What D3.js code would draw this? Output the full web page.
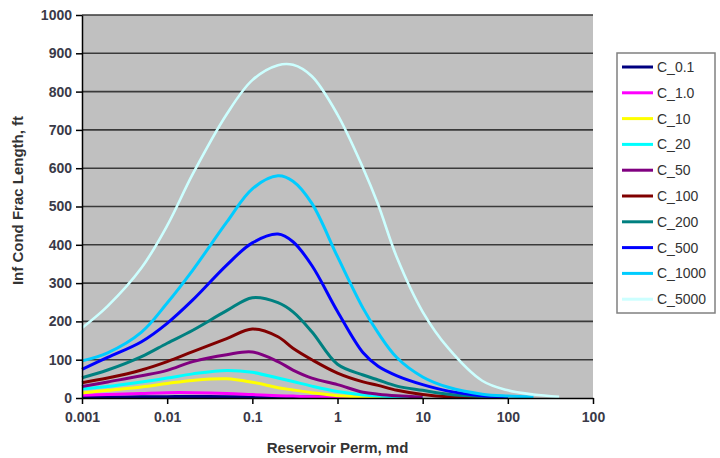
<!DOCTYPE html>
<html>
<head>
<meta charset="utf-8">
<script src="https://cdn.jsdelivr.net/npm/d3@7/dist/d3.min.js"></script>
<style>
  body { margin: 0; background: #fff; }
  text { font-family: "Liberation Sans", Arial, sans-serif; }
</style>
</head>
<body>
<svg id="chart" width="720" height="458"></svg>
<script>
// reservoir permeability, md (x values shared by all series)
var perm = [0.001, 0.002, 0.005, 0.01, 0.02, 0.05, 0.1, 0.2, 0.3, 0.5, 1, 2, 3, 5, 10, 20, 50, 100, 200, 400];

var seriesNames = ["C_0.1", "C_1.0", "C_10", "C_20", "C_50", "C_100", "C_200", "C_500", "C_1000", "C_5000"];
var seriesColors = ["#000080", "#ff00ff", "#ffff00", "#00ffff", "#800080", "#800000", "#008080", "#0000ff", "#00ccff", "#ccffff"];

// inf cond frac length, ft (null = not plotted)
var c01   = [1.5, 2, 3, 3.5, 4, 3.5, 3, 2, 1.5, 1, 0.5, null, null, null, null, null, null, null, null, null];
var c1    = [7, 9, 12, 14, 14, 12, 9, 6, 5, 3, 1.5, 0.5, null, null, null, null, null, null, null, null];
var c10   = [13, 20, 29, 38, 46, 50, 41, 27, 21, 14, 6, 3, 2, 1, null, null, null, null, null, null];
var c20   = [24, 30, 42, 52, 63, 72, 67, 52, 43, 31, 17, 8, 5, 3, 1, null, null, null, null, null];
var c50   = [30, 42, 58, 72, 95, 113, 120, 95, 73, 52, 35, 15, 10, 6, 2, null, null, null, null, null];
var c100  = [40, 52, 73, 95, 121, 155, 180, 160, 130, 100, 65, 42, 33, 20, 9, 3, 1, null, null, null];
var c200  = [53, 73, 108, 143, 177, 228, 262, 249, 225, 173, 88, 60, 47, 31, 20, 10, 4, 1.5, null, null];
var c500  = [75, 106, 147, 195, 256, 347, 405, 428, 408, 346, 226, 118, 83, 58, 35, 18, 6, 2, null, null];
var c1000 = [97, 118, 172, 248, 334, 459, 546, 580, 566, 508, 369, 234, 170, 105, 55, 28, 10, 5, 2, null];
var c5000 = [183, 240, 340, 450, 585, 741, 830, 869, 870, 840, 740, 600, 505, 366, 225, 130, 45, 20, 9, 3];

var seriesValues = [c01, c1, c10, c20, c50, c100, c200, c500, c1000, c5000];

var xTicks = [0.001, 0.01, 0.1, 1, 10, 100, 1000];
var xTickLabels = ["0.001", "0.01", "0.1", "1", "10", "100", "100"];
var yTicks = [0, 100, 200, 300, 400, 500, 600, 700, 800, 900, 1000];

var svg = d3.select("#chart");
var plotL = 82, plotR = 593, plotT = 15, plotB = 398;

var x = d3.scaleLog().domain([0.001, 1000]).range([plotL, plotR]);
var y = d3.scaleLinear().domain([0, 1000]).range([plotB, plotT]);

// plot area
svg.append("rect")
  .attr("x", plotL).attr("y", plotT)
  .attr("width", plotR - plotL).attr("height", plotB - plotT)
  .attr("fill", "#c0c0c0");

// gridlines
svg.append("g").selectAll("line")
  .data(yTicks.slice(1))
  .enter().append("line")
  .attr("x1", plotL).attr("x2", plotR)
  .attr("y1", function (d) { return y(d); })
  .attr("y2", function (d) { return y(d); })
  .attr("stroke", "#3a3a3a")
  .attr("stroke-width", 1.6);

// series
var line = d3.line()
  .defined(function (d) { return d[1] !== null; })
  .x(function (d) { return x(d[0]); })
  .y(function (d) { return Math.min(y(d[1]), plotB - 1); })
  .curve(d3.curveCatmullRom.alpha(0.5));

seriesValues.forEach(function (vals, i) {
  var pts = perm.map(function (p, j) { return [p, vals[j]]; });
  svg.append("path")
    .datum(pts)
    .attr("d", line)
    .attr("fill", "none")
    .attr("stroke", seriesColors[i])
    .attr("stroke-width", i === 9 ? 2.6 : 3)
    .attr("stroke-linejoin", "round");
});

// axes
var xAxis = svg.append("g")
  .attr("transform", "translate(0," + plotB + ")")
  .call(d3.axisBottom(x).tickValues(xTicks)
    .tickFormat(function (d, i) { return xTickLabels[i]; })
    .tickSize(6).tickSizeOuter(0));

var yAxis = svg.append("g")
  .attr("transform", "translate(" + plotL + ",0)")
  .call(d3.axisLeft(y).tickValues(yTicks).tickFormat(d3.format("d"))
    .tickSize(6).tickSizeOuter(0));

[xAxis, yAxis].forEach(function (g) {
  g.select(".domain").attr("stroke", "#000").attr("stroke-width", 1.5);
  g.selectAll(".tick line").attr("stroke", "#000").attr("stroke-width", 1.5);
  g.selectAll(".tick text")
    .attr("fill", "#3a3a48")
    .style("font-size", "14px")
    .style("font-weight", "bold");
});
xAxis.selectAll(".tick text").attr("dy", "1.05em");
yAxis.selectAll(".tick text").attr("x", -10);

// axis titles
svg.append("text")
  .attr("x", (plotL + plotR) / 2).attr("y", 453)
  .attr("text-anchor", "middle")
  .attr("fill", "#333")
  .style("font-size", "15px").style("font-weight", "bold")
  .text("Reservoir Perm, md");

svg.append("text")
  .attr("transform", "translate(23," + ((plotT + plotB) / 2 - 6) + ") rotate(-90)")
  .attr("text-anchor", "middle")
  .attr("fill", "#333")
  .style("font-size", "15px").style("font-weight", "bold")
  .text("Inf Cond Frac Length, ft");

// legend
var legend = svg.append("g");
legend.append("rect")
  .attr("x", 617).attr("y", 53)
  .attr("width", 98).attr("height", 260)
  .attr("fill", "#fff")
  .attr("stroke", "#808080").attr("stroke-width", 1.5);

var items = legend.selectAll("g.item")
  .data(seriesNames)
  .enter().append("g")
  .attr("class", "item")
  .attr("transform", function (d, i) { return "translate(0," + (67 + i * 25.8) + ")"; });

items.append("line")
  .attr("x1", 622).attr("x2", 653)
  .attr("stroke", function (d, i) { return seriesColors[i]; })
  .attr("stroke-width", 3);

items.append("text")
  .attr("x", 657).attr("dy", "0.36em")
  .attr("fill", "#333")
  .style("font-size", "14px")
  .text(function (d) { return d; });
</script>
</body>
</html>
